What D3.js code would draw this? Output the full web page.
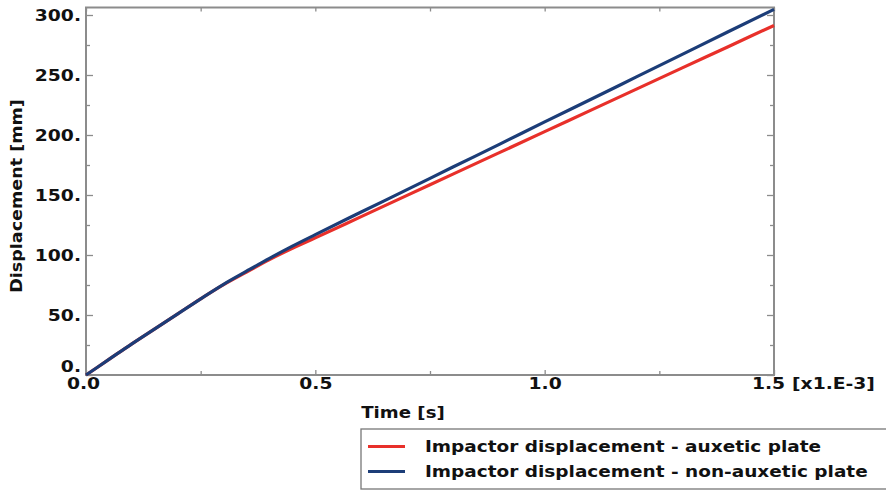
<!DOCTYPE html>
<html>
<head>
<meta charset="utf-8">
<script src="https://cdn.jsdelivr.net/npm/d3@7/dist/d3.min.js"></script>
<style>
  html, body { margin: 0; padding: 0; background: #fff; }
  svg { display: block; }
  text { font-family: "DejaVu Sans", Verdana, sans-serif; font-weight: bold; fill: #111; }
</style>
</head>
<body>
<svg id="chart" width="886" height="491"></svg>
<script>
// ---- data (time in ms ×1e-3 s, displacement in mm) ----
const timeAux = [0, 0.05, 0.1, 0.15, 0.2, 0.25, 0.3, 0.35, 0.4, 0.45, 0.5, 0.6, 0.7, 0.8, 0.9, 1.0, 1.1, 1.2, 1.3, 1.4, 1.5];
const dispAux = [0, 13, 26, 38.5, 51, 63.5, 75.3, 85.8, 96.2, 105.6, 114.3, 132, 149.7, 167.4, 185.1, 202.8, 220.5, 238.2, 255.9, 273.6, 291.3];
const timeNonAux = [0, 0.05, 0.1, 0.15, 0.2, 0.25, 0.3, 0.35, 0.4, 0.45, 0.5, 0.6, 0.7, 0.8, 0.9, 1.0, 1.1, 1.2, 1.3, 1.4, 1.5];
const dispNonAux = [0, 13, 26, 38.5, 51, 63.5, 75.6, 86.5, 97.2, 107.4, 117.0, 135.8, 154.5, 173.3, 192.0, 210.9, 229.6, 248.4, 267.2, 286.0, 304.7];
const seriesNames = ["Impactor displacement - auxetic plate", "Impactor displacement - non-auxetic plate"];
const seriesColors = ["#e8302a", "#1c3d78"];
const xMajorTicks = [0, 0.5, 1.0, 1.5];
const xMinorTicks = [0.25, 0.75, 1.25];
const yMajorTicks = [0, 50, 100, 150, 200, 250, 300];
const yMinorTicks = [25, 75, 125, 175, 225, 275];
const xTitle = "Time [s]";
const xUnit = "[x1.E-3]";
const yTitle = "Displacement [mm]";

const svg = d3.select("#chart");
const L = 86, R = 774, T = 7.5, B = 375;
const x = d3.scaleLinear().domain([0, 1.5]).range([L, R]);
const y = d3.scaleLinear().domain([0, 306.25]).range([B, T]);
const frameColor = "#8c8c8c";

function stretch(sel, k = 1.17) {
  sel.each(function() {
    const n = this.getComputedTextLength();
    if (n > 0) {
      this.setAttribute("textLength", n * k);
      this.setAttribute("lengthAdjust", "spacingAndGlyphs");
    }
  });
}

// frame
svg.append("rect").attr("x", L).attr("y", T).attr("width", R - L).attr("height", B - T)
  .attr("fill", "none").attr("stroke", frameColor).attr("stroke-width", 2);

function styleAxis(g) {
  g.select(".domain").remove();
  g.selectAll(".tick line").attr("stroke", frameColor).attr("stroke-width", 1.3);
}

// left axis
const gl = svg.append("g").attr("transform", `translate(${L},0)`)
  .call(d3.axisLeft(y).tickValues(yMajorTicks).tickSize(-7).tickPadding(5).tickFormat(d => d + "."))
  .call(styleAxis);
gl.selectAll("text").attr("font-size", 16).attr("font-family", "DejaVu Sans").attr("font-weight", "bold").attr("fill", "#111")
  .attr("dy", "0.35em").attr("y", d => d === 0 ? -9 : 0);
stretch(gl.selectAll("text"));
svg.append("g").attr("transform", `translate(${L},0)`)
  .call(d3.axisLeft(y).tickValues(yMinorTicks).tickSize(-4).tickFormat(""))
  .call(styleAxis);

// right axis ticks
svg.append("g").attr("transform", `translate(${R},0)`)
  .call(d3.axisRight(y).tickValues(yMajorTicks).tickSize(-7).tickFormat(""))
  .call(styleAxis);
svg.append("g").attr("transform", `translate(${R},0)`)
  .call(d3.axisRight(y).tickValues(yMinorTicks).tickSize(-4).tickFormat(""))
  .call(styleAxis);

// bottom axis
const gb = svg.append("g").attr("transform", `translate(0,${B})`)
  .call(d3.axisBottom(x).tickValues(xMajorTicks).tickSize(-5).tickPadding(5).tickFormat(d3.format(".1f")))
  .call(styleAxis);
gb.selectAll("text").attr("font-size", 16).attr("font-family", "DejaVu Sans").attr("font-weight", "bold").attr("fill", "#111")
  .attr("dy", "0.71em").attr("y", 3).attr("x", d => d === 1.5 ? -6 : (d === 0 ? -3 : 0));
stretch(gb.selectAll("text"));
svg.append("g").attr("transform", `translate(0,${B})`)
  .call(d3.axisBottom(x).tickValues(xMinorTicks).tickSize(-4).tickFormat(""))
  .call(styleAxis);

// top axis ticks
svg.append("g").attr("transform", `translate(0,${T})`)
  .call(d3.axisTop(x).tickValues(xMajorTicks.concat(xMinorTicks)).tickSize(-4).tickFormat(""))
  .call(styleAxis);

// unit label
const unit = svg.append("text").attr("x", 792).attr("y", B + 3).attr("dy", "0.71em")
  .attr("font-size", 16).text(xUnit);
stretch(unit);

// axis titles
const xt = svg.append("text").attr("x", 403).attr("y", 418).attr("text-anchor", "middle")
  .attr("font-size", 15.5).text(xTitle);
stretch(xt);
const yt = svg.append("text").attr("transform", `translate(22,${196}) rotate(-90)`).attr("text-anchor", "middle")
  .attr("font-size", 15).text(yTitle);
stretch(yt);

// lines
const line = d3.line().x(d => x(d[0])).y(d => y(d[1])).curve(d3.curveMonotoneX);
const series = [
  d3.zip(timeAux, dispAux),
  d3.zip(timeNonAux, dispNonAux)
];
svg.append("g").selectAll("path").data(series).join("path")
  .attr("d", line).attr("fill", "none")
  .attr("stroke", (d, i) => seriesColors[i]).attr("stroke-width", 3.2)
  .attr("stroke-linejoin", "round").attr("stroke-linecap", "butt");

// legend
const lg = svg.append("g");
lg.append("rect").attr("x", 361).attr("y", 429).attr("width", 540).attr("height", 60)
  .attr("fill", "#fff").attr("stroke", "#777").attr("stroke-width", 1.3);
seriesNames.forEach((name, i) => {
  const yy = 446.5 + i * 25;
  lg.append("line").attr("x1", 368).attr("x2", 405).attr("y1", yy).attr("y2", yy)
    .attr("stroke", seriesColors[i]).attr("stroke-width", 3);
  const t = lg.append("text").attr("x", 425).attr("y", yy).attr("dy", "0.35em")
    .attr("font-size", 15.4).text(name);
  stretch(t, 1.2);
});
</script>
</body>
</html>
